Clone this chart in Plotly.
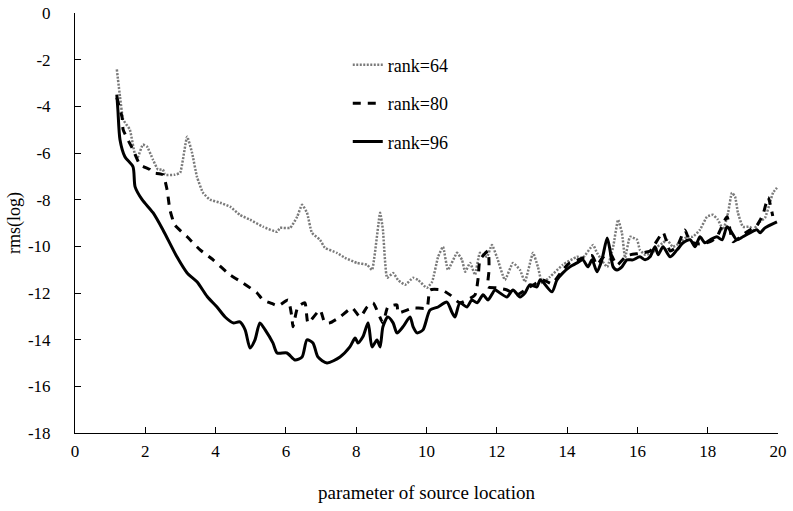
import plotly.graph_objects as go

# ---- data ----
x64 = [1.19, 1.28, 1.37, 1.56, 1.71, 1.79, 1.93, 2.05, 2.22, 2.36, 2.50, 2.56, 2.84, 2.99, 3.19, 3.33, 3.47,
       3.64, 3.84, 4.13, 4.41, 4.69, 4.98, 5.35, 5.75, 5.83, 6.12, 6.32, 6.46, 6.60, 6.74, 6.97, 7.11, 7.45,
       7.68, 8.02, 8.31, 8.45, 8.68, 8.76, 8.88, 9.05, 9.19, 9.39, 9.62, 9.76, 10.01, 10.16, 10.33, 10.47,
       10.61, 10.87, 11.01, 11.10, 11.24, 11.38, 11.52, 11.72, 11.86, 12.01, 12.23, 12.46, 12.66, 12.80,
       13.03, 13.17, 13.29, 13.51, 13.88, 14.28, 14.45, 14.74, 14.85, 15.14, 15.31, 15.45, 15.56, 15.65,
       15.79, 15.99, 16.07, 16.22, 16.44, 16.56, 16.73, 16.84, 17.01, 17.21, 17.41, 17.58, 17.78, 17.98,
       18.15, 18.29, 18.44, 18.58, 18.69, 18.78, 18.86, 19.00, 19.20, 19.29, 19.49, 19.63, 19.77, 19.86, 19.97]
y64 = [-2.42, -3.58, -4.57, -5.00, -6.07, -6.16, -5.64, -5.73, -6.29, -6.71, -6.71, -6.93, -6.93, -6.85, -5.30,
       -5.99, -7.02, -7.70, -8.00, -8.13, -8.30, -8.65, -8.86, -9.16, -9.38, -9.21, -9.21, -8.73, -8.22, -8.56,
       -9.42, -9.72, -10.06, -10.28, -10.49, -10.71, -10.79, -11.01, -8.56, -9.29, -11.35, -11.14, -11.44,
       -11.65, -11.35, -11.44, -11.78, -11.52, -10.45, -10.02, -11.01, -10.28, -10.58, -11.09, -10.71, -11.22,
       -10.28, -10.45, -9.94, -10.49, -11.44, -10.71, -11.01, -11.52, -10.28, -10.88, -11.57, -11.31, -10.79,
       -10.45, -10.49, -9.94, -10.28, -10.88, -10.02, -8.86, -9.42, -10.49, -9.59, -9.72, -10.15, -10.36,
       -10.28, -10.02, -9.85, -9.72, -10.02, -9.85, -9.59, -9.59, -9.29, -8.73, -8.65, -8.86, -9.29, -8.56,
       -7.70, -7.88, -8.56, -9.16, -9.16, -9.29, -8.95, -8.78, -8.13, -7.70, -7.49]

x80 = [1.19, 1.34, 1.37, 1.65, 1.85, 2.13, 2.22, 2.50, 2.62, 2.70, 2.84, 3.19, 3.56, 3.93, 4.41, 4.78, 5.18,
       5.35, 5.55, 5.78, 6.06, 6.17, 6.20, 6.34, 6.54, 6.63, 6.97, 7.11, 7.25, 7.54, 7.88, 8.11, 8.31, 8.48,
       8.76, 8.90, 9.16, 9.19, 9.62, 10.01, 10.10, 10.44, 10.67, 10.95, 11.38, 11.47, 11.52, 11.75, 11.78,
       11.75, 12.00, 12.29, 12.57, 12.94, 13.31, 13.57, 13.88, 14.08, 14.28, 14.45, 14.71, 14.85, 15.00,
       15.22, 15.42, 15.70, 16.07, 16.36, 16.50, 16.73, 16.93, 17.13, 17.35, 17.50, 17.78, 18.07, 18.26,
       18.55, 18.72, 19.00, 19.20, 19.40, 19.57, 19.72, 19.85]
y80 = [-3.63, -4.48, -5.00, -5.86, -6.50, -6.71, -6.85, -6.93, -7.58, -8.43, -9.08, -9.59, -10.15, -10.58,
       -11.22, -11.57, -12.00, -12.30, -12.42, -12.55, -12.30, -13.03, -13.45, -12.60, -12.42, -13.28, -12.73,
       -13.28, -13.28, -13.03, -12.64, -13.03, -12.60, -12.42, -13.28, -12.60, -12.51, -12.85, -12.64, -12.64,
       -11.87, -11.87, -12.08, -12.42, -12.08, -11.35, -10.58, -10.20, -11.00, -11.74, -11.78, -11.87, -12.08,
       -11.74, -11.44, -11.60, -11.00, -10.70, -10.60, -10.50, -10.40, -10.80, -10.50, -10.30, -10.80, -10.40,
       -10.30, -10.20, -9.90, -9.40, -10.20, -10.00, -9.30, -9.80, -9.90, -9.80, -9.60, -8.73, -9.80, -9.50,
       -9.30, -9.10, -8.65, -7.90, -8.70]

x96 = [1.19, 1.22, 1.28, 1.42, 1.65, 1.71, 1.91, 2.22, 2.50, 2.90, 3.19, 3.47, 3.76, 4.04, 4.27, 4.50, 4.69,
       4.84, 4.98, 5.12, 5.26, 5.41, 5.63, 5.75, 6.03, 6.26, 6.46, 6.60, 6.77, 6.91, 7.17, 7.54, 7.82, 7.97,
       8.05, 8.19, 8.34, 8.45, 8.59, 8.68, 8.76, 8.90, 9.05, 9.16, 9.33, 9.53, 9.62, 9.73, 9.90, 10.10, 10.33,
       10.58, 10.73, 10.81, 10.95, 11.15, 11.29, 11.44, 11.61, 11.75, 11.95, 12.09, 12.29, 12.46, 12.66, 12.80,
       12.94, 13.14, 13.23, 13.31, 13.57, 13.71, 13.88, 14.08, 14.28, 14.45, 14.59, 14.71, 14.85, 14.99, 15.14,
       15.22, 15.31, 15.42, 15.56, 15.70, 15.87, 16.07, 16.22, 16.36, 16.50, 16.59, 16.73, 16.93, 17.13, 17.30,
       17.50, 17.64, 17.78, 17.92, 18.07, 18.26, 18.41, 18.55, 18.69, 18.83, 19.00, 19.20, 19.40, 19.49, 19.63,
       19.97]
y96 = [-3.50, -4.14, -5.43, -6.16, -6.59, -7.45, -8.00, -8.56, -9.29, -10.45, -11.14, -11.52, -12.15, -12.60,
       -13.03, -13.28, -13.24, -13.58, -14.36, -14.01, -13.28, -13.58, -14.14, -14.57, -14.57, -14.87, -14.74,
       -14.01, -14.14, -14.74, -15.00, -14.74, -14.31, -13.93, -14.14, -13.88, -13.28, -14.31, -14.01, -14.31,
       -13.45, -13.03, -13.28, -13.71, -13.45, -13.03, -13.45, -13.71, -13.58, -12.73, -12.60, -12.39, -12.85,
       -13.03, -12.42, -12.60, -12.30, -12.42, -12.08, -12.30, -11.87, -12.00, -12.17, -11.87, -12.17, -12.00,
       -11.65, -11.74, -11.44, -11.52, -11.95, -11.44, -11.14, -10.88, -10.71, -10.58, -10.88, -10.58, -11.09,
       -10.58, -9.64, -10.15, -10.88, -11.01, -10.88, -10.58, -10.58, -10.45, -10.58, -10.45, -10.02, -10.36,
       -10.02, -10.45, -10.15, -9.85, -9.72, -10.02, -9.59, -9.85, -9.72, -9.59, -9.72, -9.16, -9.42, -9.72,
       -9.59, -9.42, -9.29, -9.42, -9.21, -8.95]

x_ticks = [0, 2, 4, 6, 8, 10, 12, 14, 16, 18, 20]
y_ticks = [0, -2, -4, -6, -8, -10, -12, -14, -16, -18]
y_tick_text = ["0", "-2", "-4", "-6", "-8", "-10", "-12", "-14", "-16", "-18"]

FONT = "Liberation Serif, Times New Roman, serif"

fig = go.Figure()
fig.add_trace(go.Scatter(x=x64, y=y64, mode="lines", name="rank=64", legendgroup="a",
                         line=dict(color="#7a7a7a", width=2.5, dash="2px,1.5px", shape="spline", smoothing=0.4)))
fig.add_trace(go.Scatter(x=x80, y=y80, mode="lines", name="rank=80", legendgroup="b",
                         line=dict(color="black", width=3, dash="8px,7px", shape="spline", smoothing=0.5)))
fig.add_trace(go.Scatter(x=x96, y=y96, mode="lines", name="rank=96", legendgroup="c",
                         line=dict(color="black", width=3, shape="spline", smoothing=0.7)))

axis_common = dict(showline=True, linecolor="black", linewidth=1, ticks="inside", ticklen=6,
                   tickcolor="black", showgrid=False, zeroline=False, automargin=False,
                   ticklabeloverflow="allow",
                   tickfont=dict(family=FONT, size=17, color="black"))

fig.update_layout(
    width=793, height=511,
    margin=dict(l=75, r=15, t=13, b=78),
    paper_bgcolor="white", plot_bgcolor="white",
    font=dict(family=FONT, size=17, color="black"),
    showlegend=True,
    legend=dict(x=0.388, y=0.92, xanchor="left", yanchor="top", bgcolor="rgba(0,0,0,0)",
                font=dict(family=FONT, size=18, color="black"), tracegroupgap=12,
                itemwidth=30),
    xaxis=dict(range=[0, 20], tickvals=x_ticks, ticklabelstandoff=3, **axis_common,
               title=dict(text="parameter of source location", font=dict(family=FONT, size=19), standoff=25)),
    yaxis=dict(range=[-18, 0], tickvals=y_ticks, ticktext=y_tick_text, ticklabelstandoff=20, **axis_common,
               title=dict(text="rms(log)", font=dict(family=FONT, size=18), standoff=2)),
)

# remove the page's default body margin so the 793x511 figure fills the window exactly
fig.write_html("out.html", config={"displayModeBar": False},
               post_script="document.body.style.margin='0';")
